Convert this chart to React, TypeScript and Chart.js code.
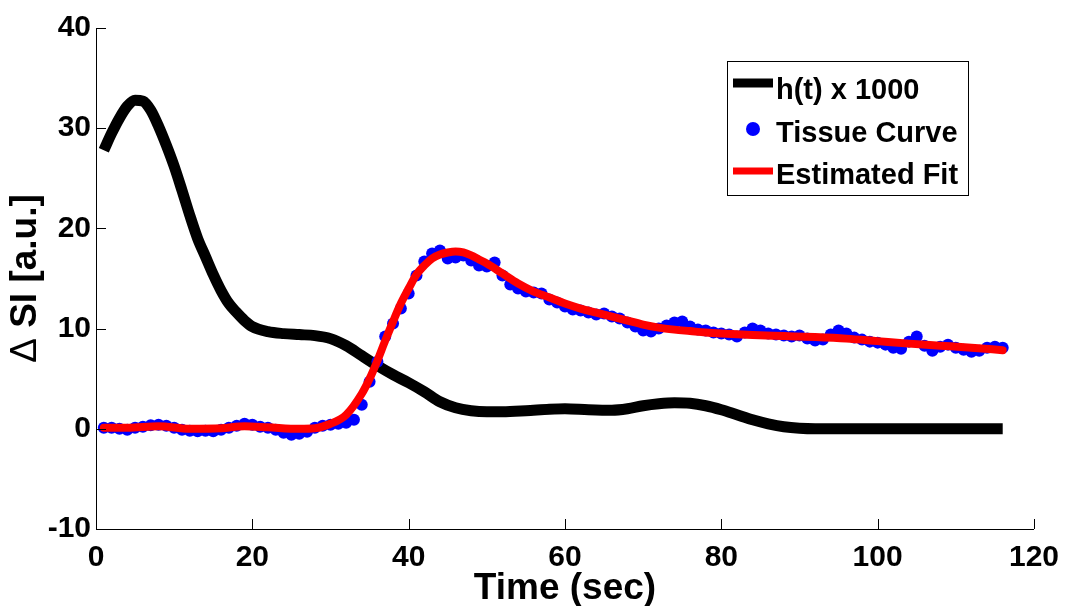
import React, { useEffect, useRef } from "react";
import { Chart, registerables } from "chart.js";

Chart.register(...registerables);

// ---- data ----
const timeSec = [
  1, 2, 3, 4, 5, 6, 7, 8, 9, 10, 11, 12, 13, 14, 15, 16, 17, 18, 19, 20,
  21, 22, 23, 24, 25, 26, 27, 28, 29, 30, 31, 32, 33, 34, 35, 36, 37, 38, 39, 40,
  41, 42, 43, 44, 45, 46, 47, 48, 49, 50, 51, 52, 53, 54, 55, 56, 57, 58, 59, 60,
  61, 62, 63, 64, 65, 66, 67, 68, 69, 70, 71, 72, 73, 74, 75, 76, 77, 78, 79, 80,
  81, 82, 83, 84, 85, 86, 87, 88, 89, 90, 91, 92, 93, 94, 95, 96, 97, 98, 99, 100,
  101, 102, 103, 104, 105, 106, 107, 108, 109, 110, 111, 112, 113, 114, 115, 116,
];

const tissueCurve = [
  0.1, 0.1, 0.0, -0.1, 0.1, 0.2, 0.35, 0.4, 0.3, 0.1,
  -0.1, -0.2, -0.25, -0.2, -0.25, -0.1, 0.1, 0.3, 0.5, 0.4,
  0.2, 0.1, -0.1, -0.4, -0.6, -0.5, -0.3, 0.1, 0.3, 0.4,
  0.5, 0.6, 0.9, 2.4, 4.7, 6.7, 9.2, 10.5, 12.0, 13.5,
  15.3, 16.7, 17.5, 17.8, 17.0, 17.1, 17.3, 16.8, 16.3, 16.2,
  16.6, 15.3, 14.4, 14.0, 13.7, 13.6, 13.5, 12.9, 12.6, 12.2,
  11.9, 11.8, 11.6, 11.4, 11.5, 11.2, 11.0, 10.6, 10.2, 9.8,
  9.7, 10.0, 10.3, 10.6, 10.7, 10.2, 9.9, 9.8, 9.6, 9.5,
  9.4, 9.2, 9.6, 10.0, 9.8, 9.5, 9.4, 9.3, 9.2, 9.3,
  9.0, 8.8, 8.9, 9.4, 9.8, 9.5, 9.1, 8.9, 8.7, 8.6,
  8.4, 8.1, 8.0, 8.7, 9.2, 8.3, 7.8, 8.2, 8.4, 8.1,
  7.9, 7.7, 7.8, 8.1, 8.2, 8.1,
];

const hTimes = [
  1, 2, 3, 4, 5, 6, 7, 8, 9, 10, 11, 12, 13, 14, 15, 16, 17, 18, 19, 20,
  22, 24, 26, 28, 30, 32, 34, 36, 38, 40, 42, 44, 46, 48, 50, 52, 55, 58, 60,
  63, 66, 68, 70, 72, 74, 76, 78, 80, 82, 84, 86, 88, 90, 92, 100, 108, 116,
];
const hValues = [
  27.8, 29.5, 31.0, 32.2, 32.8, 32.7, 31.8, 30.2, 28.3, 26.2,
  23.8, 21.3, 19.0, 17.2, 15.4, 13.8, 12.5, 11.6, 10.8, 10.2,
  9.7, 9.5, 9.4, 9.3, 9.0, 8.3, 7.3, 6.3, 5.4, 4.6,
  3.7, 2.7, 2.1, 1.8, 1.7, 1.7, 1.8, 1.95, 2.0,
  1.9, 1.85, 2.0, 2.3, 2.5, 2.6, 2.55, 2.3, 1.9, 1.4,
  0.9, 0.5, 0.2, 0.05, 0.0, 0.0, 0.0, 0.0,
];

const fitTimes = [
  1, 4, 8, 12, 16, 19, 22, 26, 28, 30, 32, 34, 35, 36, 37, 38, 39, 40,
  41, 42, 43, 44, 45, 46, 47, 48, 49, 50, 52, 54, 56, 58, 60, 62, 64, 66,
  68, 70, 72, 74, 76, 78, 80, 84, 88, 92, 96, 100, 104, 108, 112, 116,
];
const fitValues = [
  0.1, 0.1, 0.25, 0.0, 0.05, 0.25, 0.15, 0.0, 0.05, 0.5, 1.4, 3.5, 5.0, 6.8, 8.8, 10.7, 12.5, 14.0,
  15.4, 16.3, 17.0, 17.4, 17.6, 17.7, 17.6, 17.3, 16.9, 16.5, 15.5, 14.5, 13.7, 13.1, 12.5, 12.0, 11.6, 11.2,
  10.8, 10.4, 10.1, 9.9, 9.75, 9.6, 9.5, 9.35, 9.25, 9.15, 9.0, 8.75, 8.5, 8.3, 8.1, 7.85,
];

const xTicks = [0, 20, 40, 60, 80, 100, 120];
const yTicks = [-10, 0, 10, 20, 30, 40];

const seriesNames = ["h(t) x 1000", "Tissue Curve", "Estimated Fit"];
const xTitle = "Time (sec)";
const yTitleSymbol = "\u0394";
const yTitleText = " SI [a.u.]";

const FONT = "'Liberation Sans', Arial, Helvetica, sans-serif";

const decorPlugin = {
  id: "decor",
  afterDraw(chart: any) {
    const ctx = chart.ctx as CanvasRenderingContext2D;
    const area = chart.chartArea;
    const xs = chart.scales.x;
    const ys = chart.scales.y;
    ctx.save();
    // inward tick marks
    ctx.strokeStyle = "#000";
    ctx.lineWidth = 1;
    ctx.beginPath();
    xTicks.forEach((v) => {
      const px = Math.round(xs.getPixelForValue(v)) + 0.5;
      ctx.moveTo(px, area.bottom);
      ctx.lineTo(px, area.bottom - 10);
    });
    yTicks.forEach((v) => {
      const py = Math.round(ys.getPixelForValue(v)) + 0.5;
      ctx.moveTo(area.left, py);
      ctx.lineTo(area.left + 10, py);
    });
    ctx.stroke();

    // axis titles
    ctx.fillStyle = "#000";
    ctx.font = `bold 37px ${FONT}`;
    ctx.textAlign = "center";
    ctx.textBaseline = "alphabetic";
    ctx.fillText(xTitle, (area.left + area.right) / 2, 599);

    ctx.save();
    ctx.translate(26, (area.top + area.bottom) / 2);
    ctx.rotate(-Math.PI / 2);
    ctx.textBaseline = "middle";
    ctx.textAlign = "left";
    ctx.font = `37px ${FONT}`;
    const wSym = ctx.measureText(yTitleSymbol).width;
    ctx.font = `bold 37px ${FONT}`;
    const wTxt = ctx.measureText(yTitleText).width;
    const start = -(wSym + wTxt) / 2;
    ctx.font = `37px ${FONT}`;
    ctx.fillText(yTitleSymbol, start, 0);
    ctx.font = `bold 37px ${FONT}`;
    ctx.fillText(yTitleText, start + wSym, 0);
    ctx.restore();

    // legend
    const bx = 727.5, by = 61.5, bw = 241, bh = 134;
    ctx.fillStyle = "#fff";
    ctx.fillRect(bx, by, bw, bh);
    ctx.strokeStyle = "#000";
    ctx.lineWidth = 1;
    ctx.strokeRect(bx, by, bw, bh);

    ctx.lineCap = "butt";
    ctx.strokeStyle = "#000";
    ctx.lineWidth = 9;
    ctx.beginPath();
    ctx.moveTo(733, 83);
    ctx.lineTo(773, 83);
    ctx.stroke();

    ctx.fillStyle = "#0000ff";
    ctx.beginPath();
    ctx.arc(753, 129, 7, 0, Math.PI * 2);
    ctx.fill();

    ctx.strokeStyle = "#ff0000";
    ctx.lineWidth = 7;
    ctx.beginPath();
    ctx.moveTo(733, 171);
    ctx.lineTo(773, 171);
    ctx.stroke();

    ctx.fillStyle = "#000";
    ctx.font = `bold 29px ${FONT}`;
    ctx.textAlign = "left";
    ctx.textBaseline = "alphabetic";
    ctx.fillText(seriesNames[0], 776, 99);
    ctx.fillText(seriesNames[1], 776, 142);
    ctx.fillText(seriesNames[2], 776, 184);
    ctx.restore();
  },
};

export default function App() {
  const ref = useRef<HTMLCanvasElement | null>(null);

  useEffect(() => {
    const prevMargin = document.body.style.margin;
    document.body.style.margin = "0";
    const canvas = ref.current!;
    const chart = new Chart(canvas, {
      type: "line",
      data: {
        datasets: [
          {
            label: seriesNames[0],
            data: hTimes.map((t, i) => ({ x: t, y: hValues[i] })),
            borderColor: "#000000",
            borderWidth: 11,
            pointRadius: 0,
            fill: false,
            cubicInterpolationMode: "monotone",
            borderCapStyle: "butt",
            order: 2,
          },
          {
            label: seriesNames[1],
            data: timeSec.map((t, i) => ({ x: t, y: tissueCurve[i] })),
            showLine: false,
            pointRadius: 6,
            pointBackgroundColor: "#0000ff",
            pointBorderWidth: 0,
            pointBorderColor: "#0000ff",
            borderColor: "#0000ff",
            order: 1,
          },
          {
            label: seriesNames[2],
            data: fitTimes.map((t, i) => ({ x: t, y: fitValues[i] })),
            borderColor: "#ff0000",
            borderWidth: 8,
            pointRadius: 0,
            fill: false,
            cubicInterpolationMode: "monotone",
            borderCapStyle: "round",
            order: 0,
          },
        ] as any,
      },
      options: {
        responsive: false,
        animation: false,
        events: [],
        layout: { padding: { left: 0, right: 32, top: 28, bottom: 0 } },
        plugins: {
          legend: { display: false },
          tooltip: { enabled: false },
          title: { display: false },
        },
        scales: {
          x: {
            type: "linear",
            min: 0,
            max: 120,
            afterBuildTicks: (s: any) => {
              s.ticks = xTicks.map((v) => ({ value: v }));
            },
            afterFit: (s: any) => {
              s.height = 77;
            },
            grid: { display: false, drawTicks: false },
            border: { display: true, color: "#000", width: 1 },
            ticks: {
              color: "#000",
              font: { family: FONT, size: 30, weight: "bold" },
              padding: 11,
              maxRotation: 0,
              autoSkip: false,
            },
          },
          y: {
            type: "linear",
            min: -10,
            max: 40,
            afterBuildTicks: (s: any) => {
              s.ticks = yTicks.map((v) => ({ value: v }));
            },
            afterFit: (s: any) => {
              s.width = 96;
            },
            grid: { display: false, drawTicks: false },
            border: { display: true, color: "#000", width: 1 },
            ticks: {
              color: "#000",
              font: { family: FONT, size: 30, weight: "bold" },
              padding: 5,
              autoSkip: false,
            },
          },
        },
      } as any,
      plugins: [decorPlugin],
    });
    return () => {
      chart.destroy();
      document.body.style.margin = prevMargin;
    };
  }, []);

  return (
    <div style={{ width: 1070, height: 606, background: "#fff" }}>
      <canvas ref={ref} width={1070} height={606} style={{ display: "block" }} />
    </div>
  );
}
